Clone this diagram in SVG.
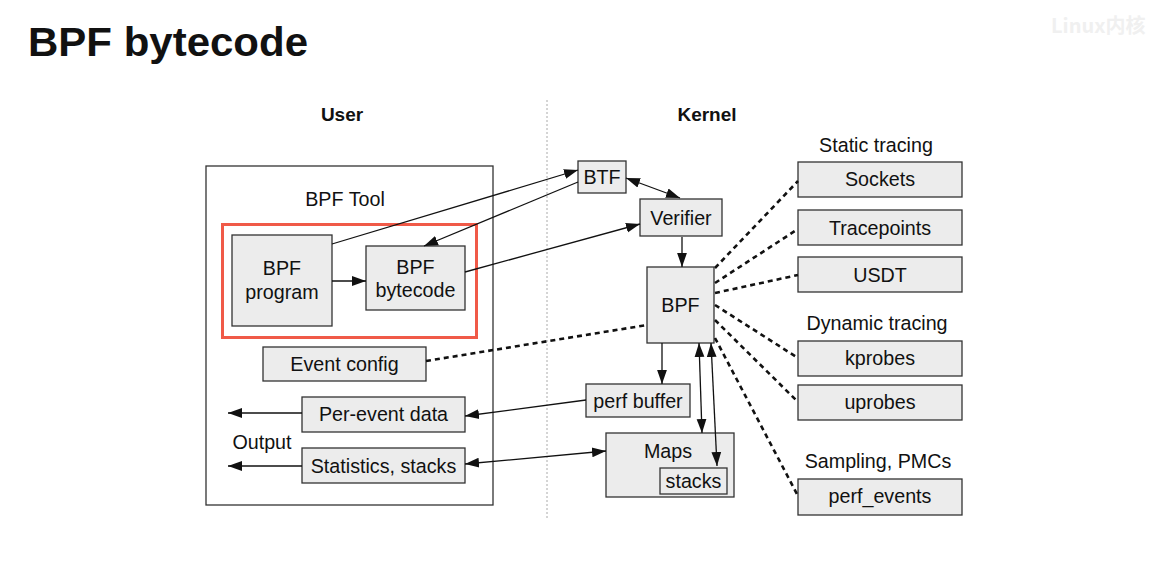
<svg xmlns="http://www.w3.org/2000/svg" width="1167" height="580" viewBox="0 0 1167 580">
<style>
text{font-family:"Liberation Sans",Arial,sans-serif;fill:#111}
.t{font-size:19.7px;text-anchor:middle}
.b{fill:#ececec;stroke:#333;stroke-width:1.3}
.h{font-size:19px;font-weight:bold;text-anchor:middle}
.c{fill:none;stroke:#111;stroke-width:1.3}
.d{fill:none;stroke:#111;stroke-width:2.6;stroke-dasharray:5 4}
</style>
<defs>
<marker id="a" viewBox="0 0 10 10" refX="10" refY="5" markerWidth="14" markerHeight="14" markerUnits="userSpaceOnUse" orient="auto-start-reverse"><path d="M0,1.5 L10,5 L0,8.5 z" fill="#111"/></marker>
</defs>
<rect width="1167" height="580" fill="#fff"/>
<text x="28" y="56" font-size="40" font-weight="bold" textLength="280" lengthAdjust="spacingAndGlyphs">BPF bytecode</text>
<text x="1051" y="33" font-size="20" font-weight="bold" style="fill:#f0f0f0;font-family:'Noto Sans CJK SC',sans-serif">Linux内核</text>
<text class="h" x="342" y="121">User</text>
<text class="h" x="707" y="121">Kernel</text>
<line x1="547" y1="100" x2="547" y2="518" stroke="#aaa" stroke-width="1" stroke-dasharray="2 2"/>
<g id="user">
<rect x="206" y="166" width="287" height="339" fill="#fff" stroke="#333" stroke-width="1.3"/>
<text class="t" x="345" y="206">BPF Tool</text>
<text class="t" x="262" y="449">Output</text>
</g>
<rect x="222.5" y="224.5" width="254" height="113" fill="none" stroke="#f05a48" stroke-width="3"/>
<g id="bpf-program"><rect class="b" x="232" y="235" width="100" height="91"/><text class="t" x="282" y="275">BPF</text><text class="t" x="282" y="299">program</text></g>
<g id="bpf-bytecode"><rect class="b" x="366" y="246" width="99" height="64"/><text class="t" x="415.5" y="274">BPF</text><text class="t" x="415.5" y="297">bytecode</text></g>
<g id="event-config"><rect class="b" x="263" y="347" width="163" height="34"/><text class="t" x="344.5" y="371">Event config</text></g>
<g id="per-event"><rect class="b" x="302" y="397" width="163" height="35"/><text class="t" x="383.5" y="421">Per-event data</text></g>
<g id="stats"><rect class="b" x="302" y="448" width="163" height="35"/><text class="t" x="383.5" y="473">Statistics, stacks</text></g>
<g id="btf"><rect class="b" x="578" y="161" width="48" height="32"/><text class="t" x="602" y="184">BTF</text></g>
<g id="verifier"><rect class="b" x="640" y="199" width="82" height="37"/><text class="t" x="681" y="225">Verifier</text></g>
<g id="bpf"><rect class="b" x="647" y="267" width="67" height="76"/><text class="t" x="680.5" y="312">BPF</text></g>
<g id="perf-buffer"><rect class="b" x="586" y="384" width="104" height="33"/><text class="t" x="638" y="408">perf buffer</text></g>
<g id="maps"><rect class="b" x="606" y="433" width="128" height="64"/><text class="t" x="668" y="458">Maps</text>
<rect class="b" x="660" y="468" width="67" height="26"/><text class="t" x="693.5" y="488">stacks</text></g>
<text class="t" x="876" y="152">Static tracing</text>
<g id="sockets"><rect class="b" x="798" y="162" width="164" height="35"/><text class="t" x="880" y="186">Sockets</text></g>
<g id="tracepoints"><rect class="b" x="798" y="210" width="164" height="35"/><text class="t" x="880" y="235">Tracepoints</text></g>
<g id="usdt"><rect class="b" x="798" y="257" width="164" height="35"/><text class="t" x="880" y="282">USDT</text></g>
<text class="t" x="877" y="330">Dynamic tracing</text>
<g id="kprobes"><rect class="b" x="798" y="341" width="164" height="35"/><text class="t" x="880" y="365">kprobes</text></g>
<g id="uprobes"><rect class="b" x="798" y="385" width="164" height="35"/><text class="t" x="880" y="409">uprobes</text></g>
<text class="t" x="878" y="468">Sampling, PMCs</text>
<g id="perf-events"><rect class="b" x="798" y="479" width="164" height="36"/><text class="t" x="880" y="503">perf_events</text></g>
<g id="connectors">
<line class="c" x1="332" y1="281" x2="366" y2="281" marker-end="url(#a)"/>
<line class="c" x1="332" y1="244" x2="578" y2="170" marker-end="url(#a)"/>
<line class="c" x1="578" y1="182" x2="424" y2="246" marker-end="url(#a)"/>
<line class="c" x1="465" y1="272" x2="640" y2="224" marker-end="url(#a)"/>
<line class="c" x1="626" y1="178" x2="680" y2="198" marker-start="url(#a)" marker-end="url(#a)"/>
<line class="c" x1="682" y1="237" x2="682" y2="267" marker-end="url(#a)"/>
<line class="c" x1="662" y1="343" x2="662" y2="384" marker-end="url(#a)"/>
<line class="c" x1="586" y1="400" x2="465" y2="416" marker-end="url(#a)"/>
<line class="c" x1="465" y1="464" x2="606" y2="451" marker-start="url(#a)" marker-end="url(#a)"/>
<line class="c" x1="699" y1="343" x2="702" y2="433" marker-start="url(#a)" marker-end="url(#a)"/>
<line class="c" x1="711" y1="343" x2="717" y2="466" marker-start="url(#a)" marker-end="url(#a)"/>
<line class="c" x1="302" y1="413" x2="228" y2="413" marker-end="url(#a)"/>
<line class="c" x1="302" y1="466" x2="228" y2="466" marker-end="url(#a)"/>
<line class="d" x1="426" y1="361" x2="647" y2="325"/>
<line class="d" x1="715" y1="268" x2="798" y2="181"/>
<line class="d" x1="715" y1="283" x2="798" y2="229"/>
<line class="d" x1="715" y1="293" x2="798" y2="275"/>
<line class="d" x1="715" y1="305" x2="798" y2="358"/>
<line class="d" x1="715" y1="320" x2="798" y2="402"/>
<line class="d" x1="715" y1="338" x2="798" y2="496"/>
</g>
</svg>
